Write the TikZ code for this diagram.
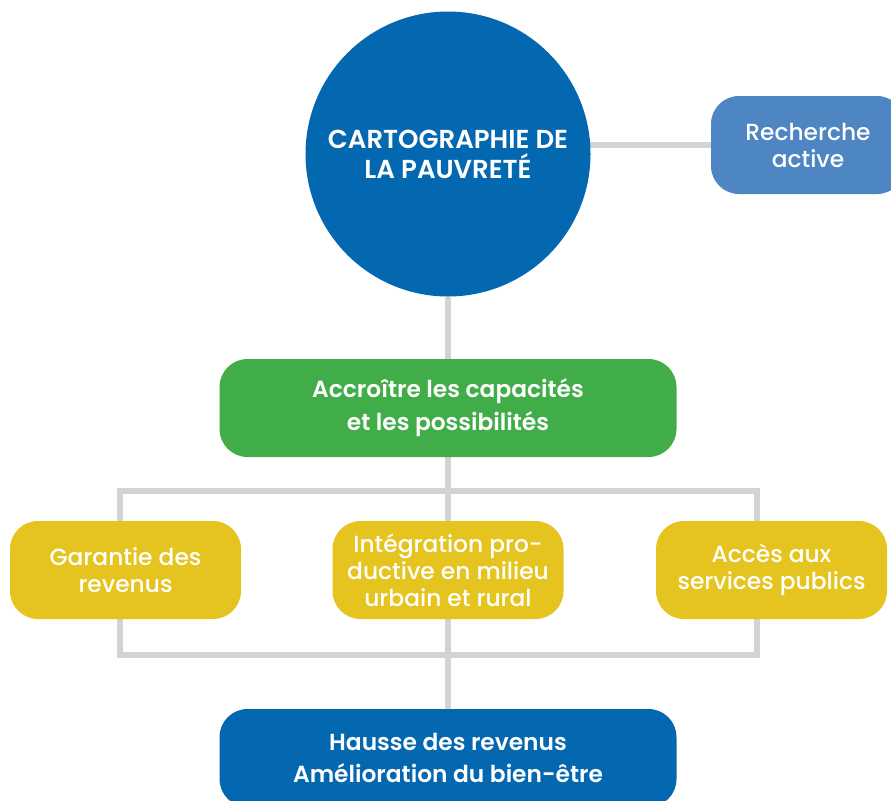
\documentclass[tikz,border=0pt]{standalone}
\usepackage{fontspec}
\setmainfont{Poppins}[BoldFont={Poppins SemiBold}]
\newfontfamily\moyen{Poppins Medium}
\usetikzlibrary{backgrounds}
\definecolor{bleu}{HTML}{0468B1}
\definecolor{bleuclair}{HTML}{4E86C4}
\definecolor{vert}{HTML}{41AD49}
\definecolor{jaune}{HTML}{E6C41F}
\definecolor{gris}{HTML}{D1D3D4}
\begin{document}
\begin{tikzpicture}[x=0.75pt,y=-0.75pt,
    caja/.style={rounded corners=21pt, minimum height=73.5pt, inner sep=0pt, align=center, text=white},
    linea/.style={draw=gris, line width=4pt}]
    \useasboundingbox (0,0) rectangle (891,800);

    % Nodos
    \node[circle, fill=bleu, minimum size=213.75pt, inner sep=0pt, align=center, text=white,
          font=\fontsize{19.5}{22.5}\selectfont\bfseries] (carto) at (448,154) {CARTOGRAPHIE DE\\LA PAUVRETÉ};
    \node[caja, fill=bleuclair, minimum width=145.5pt, font=\fontsize{17.5}{20.25}\selectfont\moyen] (recherche) at (808,145) {Recherche\\active};
    \node[caja, fill=vert, minimum width=342.75pt, font=\fontsize{17.5}{24.75}\selectfont\bfseries] (capa) at (448,408) {Accroître les capacités\\et les possibilités};
    \node[caja, fill=jaune, minimum width=173.25pt, font=\fontsize{17.5}{20.25}\selectfont\moyen] (garantie) at (125.5,570) {Garantie des\\revenus};
    \node[caja, fill=jaune, minimum width=173.25pt, font=\fontsize{17.5}{20.25}\selectfont\moyen] (integ) at (448,570) {Intégration pro-\\ductive en milieu\\urbain et rural};
    \node[caja, fill=jaune, minimum width=173.25pt, font=\fontsize{17.5}{20.25}\selectfont\moyen] (acces) at (771.5,570) {Accès aux\\services publics};
    \node[caja, fill=bleu, minimum width=342.75pt, font=\fontsize{17.5}{24}\selectfont\bfseries] (hausse) at (448,758) {Hausse des revenus\\Amélioration du bien-être};

    % Conectores
    \coordinate (cadreA) at (120,491);
    \coordinate (cadreB) at (757,655);
    \begin{scope}[on background layer]
        \draw[linea] (recherche.west) -- (recherche.west -| carto.center);
        \draw[linea] (carto.south) -- (capa.north);
        \draw[linea] (capa.south) -- (integ.north);
        \draw[linea] (integ.south) -- (hausse.north);
        \draw[linea] (cadreA) rectangle (cadreB);
    \end{scope}
\end{tikzpicture}
\end{document}
